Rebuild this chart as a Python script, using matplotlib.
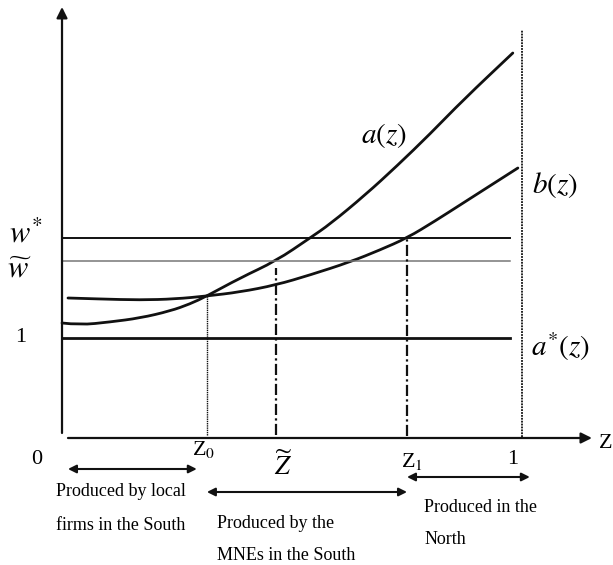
import numpy as np
import matplotlib
matplotlib.use("Agg")
import matplotlib.pyplot as plt
from matplotlib.path import Path
from matplotlib.patches import PathPatch

plt.rcParams['font.family'] = ['Liberation Serif', 'DejaVu Serif']
plt.rcParams['mathtext.fontset'] = 'stix'

# curves (z in [0, 1], wage units with a*(z) = 1)
a_z = [0.0, 0.039, 0.104, 0.170, 0.235, 0.278, 0.315, 0.387, 0.465, 0.539,
       0.583, 0.659, 0.728, 0.800, 0.872, 0.980]
a_v = [1.15, 1.13, 1.16, 1.20, 1.27, 1.34, 1.42, 1.60, 1.77, 2.00,
       2.14, 2.43, 2.72, 3.04, 3.38, 3.85]
b_z = [0.013, 0.083, 0.170, 0.246, 0.315, 0.387, 0.465, 0.539, 0.626,
       0.691, 0.750, 0.811, 0.872, 0.991]
b_v = [1.40, 1.39, 1.38, 1.39, 1.42, 1.46, 1.53, 1.63, 1.76,
       1.88, 2.00, 2.17, 2.35, 2.70]

w_star = 2.0
w_tilde = 1.77
a_star = 1.0
z0, z_tilde, z1 = 0.315, 0.465, 0.75

k = '#111111'


def smooth_curve(ax, xs, ys):
    # quadratic bezier through the midpoints, read points as control points
    pts = np.column_stack([xs, ys])
    verts = [pts[0]]
    codes = [Path.MOVETO]
    for i in range(1, len(pts) - 1):
        verts += [pts[i], (pts[i] + pts[i + 1]) / 2]
        codes += [Path.CURVE3, Path.CURVE3]
    verts.append(pts[-1])
    codes.append(Path.LINETO)
    ax.add_patch(PathPatch(Path(verts, codes), fill=False, ec=k, lw=2.0,
                           capstyle='round'))


fig = plt.figure(figsize=(6.13, 5.65), dpi=100)
ax = fig.add_axes([0, 0, 1, 1])
ax.set_xlim(-0.1348, 1.1978)
ax.set_ylim(-1.27, 4.38)
ax.axis('off')

arrow = dict(arrowstyle='-|>', color=k, lw=1.6, mutation_scale=16, shrinkA=0, shrinkB=0)
ax.annotate('', xy=(0, 4.31), xytext=(0, 0.05), arrowprops=arrow)
ax.annotate('', xy=(1.152, 0), xytext=(0.013, 0), arrowprops=arrow)

# horizontal levels
ax.plot([0, 0.974], [w_star, w_star], color=k, lw=1.4)
ax.plot([0, 0.974], [w_tilde, w_tilde], color='#777777', lw=1.1)
ax.plot([0, 0.974], [a_star, a_star], color=k, lw=2.0)

# curves
smooth_curve(ax, a_z, a_v)
smooth_curve(ax, b_z, b_v)

# vertical guides
ax.plot([1.0, 1.0], [0.01, 4.08], color=k, lw=1.3, ls=(0, (1, 0.6)))
ax.plot([z0, z0], [0.03, 1.42], color=k, lw=1.0, ls=(0, (1, 0.6)))
ax.plot([z_tilde, z_tilde], [0.03, 1.70], color=k, lw=1.6, ls=(0, (5, 1.5, 1, 1.5)))
ax.plot([z1, z1], [0.02, 2.0], color=k, lw=1.6, ls=(0, (5, 1.5, 1, 1.5)))

# curve labels
big = 21
ax.text(0.700, 3.03, r'$a(z)$', fontsize=big, ha='center', va='center')
ax.text(1.072, 2.53, r'$b(z)$', fontsize=big, ha='center', va='center')
ax.text(1.083, 0.91, r'$a^{*}(z)$', fontsize=big, ha='center', va='center')
ax.text(-0.115, 2.03, r'$w^{*}$', fontsize=22, ha='left', va='center')
ax.text(-0.119, 1.68, r'$\widetilde{w}$', fontsize=22, ha='left', va='center')
ax.text(-0.089, 1.01, '1', fontsize=16, ha='center', va='center')

# axis labels
ax.text(-0.054, -0.21, '0', fontsize=16, ha='center', va='center')
ax.text(0.307, -0.12, r'Z$_{\it{0}}$', fontsize=16, ha='center', va='center')
ax.text(0.480, -0.27, r'$\widetilde{Z}$', fontsize=19, ha='center', va='center')
ax.text(0.761, -0.23, r'Z$_{1}$', fontsize=16, ha='center', va='center')
ax.text(0.980, -0.21, '1', fontsize=16, ha='center', va='center')
ax.text(1.167, -0.05, 'Z', fontsize=16, ha='left', va='center')

# ranges of production
both = dict(arrowstyle='<|-|>', color=k, lw=1.5, mutation_scale=12, shrinkA=0, shrinkB=0)
ax.annotate('', xy=(0.293, -0.31), xytext=(0.013, -0.31), arrowprops=both)
ax.annotate('', xy=(0.750, -0.54), xytext=(0.315, -0.54), arrowprops=both)
ax.annotate('', xy=(1.017, -0.39), xytext=(0.750, -0.39), arrowprops=both)

small = 13
ax.text(-0.013, -0.54, 'Produced by local', fontsize=small, va='center')
ax.text(-0.013, -0.87, 'firms in the South', fontsize=small, va='center')
ax.text(0.337, -0.85, 'Produced by the', fontsize=small, va='center')
ax.text(0.337, -1.17, 'MNEs in the South', fontsize=small, va='center')
ax.text(0.787, -0.70, 'Produced in the', fontsize=small, va='center')
ax.text(0.787, -1.02, 'North', fontsize=small, va='center')

fig.savefig('out.png', dpi=100)
